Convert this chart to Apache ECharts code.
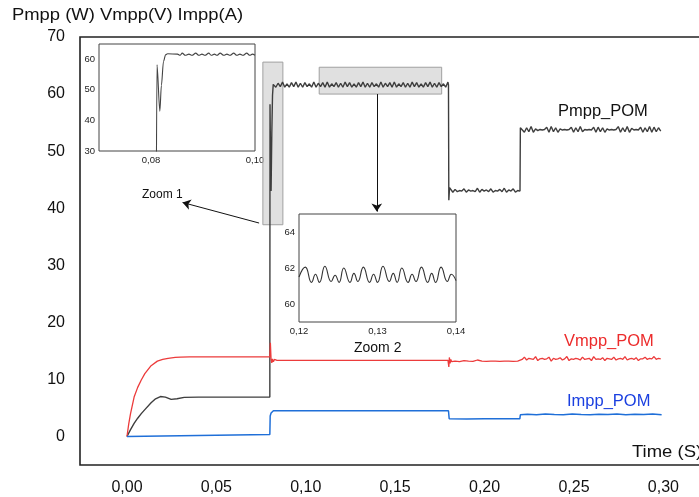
<!DOCTYPE html>
<html>
<head>
<meta charset="utf-8">
<script src="https://cdn.jsdelivr.net/npm/echarts@6/dist/echarts.min.js"></script>
<style>
  html, body { margin: 0; padding: 0; background: #fff; }
  #chart { width: 699px; height: 497px; }
</style>
</head>
<body>
<div id="chart"></div>
<script>
// ---- tick labels ----
const timeTicks = [0, 0.05, 0.10, 0.15, 0.20, 0.25, 0.30];
const valueTicks = [0, 10, 20, 30, 40, 50, 60, 70];
const zoom1TimeTicks = [0.08, 0.10];
const zoom1ValueTicks = [30, 40, 50, 60];
const zoom2TimeTicks = [0.12, 0.13, 0.14];
const zoom2ValueTicks = [60, 62, 64];

// ---- Pmpp_POM (W) ----
const pmppStart = [[0, 0], [0.002, 1.2], [0.004, 2.3], [0.006, 3.2], [0.008, 4.0], [0.010, 4.7],
  [0.0135, 5.9], [0.016, 6.6], [0.0187, 7.0], [0.0215, 6.9], [0.0247, 6.5], [0.028, 6.6],
  [0.032, 6.85], [0.040, 6.9], [0.060, 6.9], [0.0799, 6.9],
  [0.0800, 58.2], [0.0802, 52.0], [0.0806, 43.0], [0.0810, 53.0], [0.0814, 59.8], [0.0818, 61.7]];
// sampled every 1.25 ms from 0.0820 s
const pmppHigh = [62.0,61.2,61.9,61.3,62.1,61.2,61.8,61.2,62.0,61.3,
  62.1,61.2,61.9,61.2,62.0,61.3,61.8,61.2,62.1,61.2,
  61.9,61.3,62.0,61.2,62.1,61.2,61.8,61.3,62.0,61.2,
  61.9,61.2,62.1,61.3,62.0,61.2,61.8,61.2,62.0,61.3,
  62.1,61.2,61.9,61.2,62.0,61.3,61.8,61.2,62.1,61.2,
  61.9,61.3,62.0,61.2,62.1,61.2,61.8,61.3,62.0,61.2,
  61.9,61.2,62.1,61.3,62.0,61.2,61.8,61.2,62.0,61.3,
  62.1,61.2,61.9,61.2,62.0,61.3,61.8,61.2,62.1];
const pmppDrop = [[0.1798, 61.6], [0.1800, 41.4], [0.1804, 43.6]];
// sampled every 1.25 ms from 0.1810 s
const pmppLow = [43.4,42.8,43.3,42.9,43.1,43.0,43.4,42.8,43.2,43.0,
  43.1,42.9,43.5,42.8,43.3,43.0,43.2,42.9,43.4,42.8,
  43.1,43.0,43.3,42.9,43.5,42.8,43.2,43.0,43.4,42.8,43.1];
const pmppRise = [[0.2198, 43.0], [0.2200, 54.1]];
// sampled every 1.25 ms from 0.2210 s
const pmppMid = [54.2,53.3,54.1,53.4,54.3,53.3,53.9,53.6,53.8,53.7,
  53.8,54.2,53.3,54.3,53.4,54.1,53.3,53.9,53.7,53.8,
  53.7,53.8,54.2,53.3,54.1,53.4,54.3,53.4,53.8,53.7,
  53.8,53.7,54.2,53.3,54.2,53.4,54.1,53.3,53.9,53.7,
  53.8,53.7,53.8,54.3,53.3,54.1,53.4,54.3,53.3,54.0,
  53.7,53.8,53.7,54.2,53.3,54.1,53.4,54.3,53.3,54.2,
  53.4,54.1,53.5];

// ---- Vmpp_POM (V) ----
const vmppStart = [[0, 0], [0.001, 2.2], [0.002, 4.0], [0.004, 6.9], [0.006, 8.6], [0.008, 9.9],
  [0.010, 11.0], [0.0135, 12.4], [0.017, 13.2], [0.020, 13.5], [0.023, 13.7], [0.027, 13.85],
  [0.030, 13.9], [0.035, 13.95], [0.060, 13.95], [0.0799, 13.95],
  [0.0802, 16.4], [0.0806, 13.5], [0.0810, 12.9], [0.0814, 13.6], [0.0819, 13.1], [0.0825, 13.5],
  [0.0831, 13.2], [0.0839, 13.35], [0.1795, 13.35],
  [0.1800, 12.2], [0.1803, 13.85], [0.1807, 12.8], [0.1811, 13.5], [0.1816, 13.1], [0.1823, 13.3]];
// sampled every 2.5 ms from 0.1835 s
const vmppLow = [13.2,13.1,13.3,13.2,13.15,13.4,13.2,13.15,13.2,13.2,13.15,13.2,13.2,13.15,13.2];
// sampled every 1.25 ms from 0.2210 s
const vmppMid = [13.5,13.9,13.4,13.7,13.6,13.5,14.0,13.3,13.6,13.7,
  13.5,13.6,13.9,13.2,13.7,13.5,13.6,13.8,13.4,13.6,
  14.0,13.3,13.6,13.5,13.7,13.6,13.4,13.9,13.5,13.6,
  13.7,13.3,14.0,13.5,13.6,13.5,13.8,13.3,13.7,13.6,
  13.5,13.9,13.4,13.6,13.7,13.5,14.0,13.4,13.6,13.7,
  13.5,13.8,13.3,13.6,13.6,13.9,13.5,13.7,13.6,14.0,
  13.5,13.7,13.6];

// ---- Impp_POM (A) ----
const impp = [[0, 0], [0.001, 0.35], [0.0799, 0.35], [0.0801, 3.6], [0.0803, 3.9], [0.0806, 4.1],
  [0.0810, 4.4], [0.0819, 4.5], [0.1798, 4.5], [0.1802, 3.1], [0.190, 3.05], [0.200, 3.1],
  [0.2197, 3.1], [0.2200, 3.8], [0.224, 3.9], [0.229, 3.8], [0.234, 3.95], [0.239, 3.85],
  [0.244, 3.8], [0.249, 3.95], [0.254, 3.85], [0.259, 3.8], [0.264, 3.9], [0.269, 3.85],
  [0.274, 3.95], [0.279, 3.8], [0.284, 3.9], [0.289, 3.85], [0.294, 3.95], [0.2990, 3.8]];

// ---- detail views of Pmpp ----
const zoom1Pmpp = [[0.0810, 6.9], [0.08115, 58.2], [0.0817, 43.0], [0.0820, 51.5], [0.0824, 59.3],
  [0.0828, 61.5], [0.0832, 61.8], [0.0851, 61.7], [0.0856, 61.3], [0.0860, 62.0], [0.0866, 61.3],
  [0.0873, 61.7], [0.0879, 61.3], [0.0886, 62.0], [0.0892, 61.3], [0.0898, 61.7], [0.0904, 61.3],
  [0.0911, 62.0], [0.0916, 61.3], [0.0922, 61.7], [0.0927, 61.3], [0.0933, 62.0], [0.0940, 61.3],
  [0.0946, 61.7], [0.0952, 61.3], [0.0959, 62.0], [0.0965, 61.3], [0.0971, 61.7], [0.0977, 61.3],
  [0.0984, 62.0], [0.0990, 61.3], [0.0995, 61.7], [0.1000, 61.3]];
const zoom2Pmpp = [[0.1200, 61.5], [0.1208, 62.05], [0.1216, 61.2], [0.1221, 61.65], [0.1226, 61.2],
  [0.1233, 62.1], [0.1241, 61.25], [0.1246, 61.6], [0.1251, 61.2], [0.1257, 62.0], [0.1265, 61.2],
  [0.1270, 61.7], [0.1275, 61.25], [0.1282, 62.05], [0.1290, 61.2], [0.1295, 61.65], [0.1300, 61.2],
  [0.1307, 62.1], [0.1315, 61.25], [0.1320, 61.7], [0.1325, 61.2], [0.1331, 62.0], [0.1339, 61.2],
  [0.1344, 61.65], [0.1349, 61.25], [0.1356, 62.05], [0.1364, 61.2], [0.1369, 61.7], [0.1374, 61.2],
  [0.1381, 62.05], [0.1389, 61.25], [0.1394, 61.65], [0.1400, 61.3]];

// attach sample times to evenly sampled runs
function sampled(t0, dt, values) {
  return values.map((v, i) => [+(t0 + i * dt).toFixed(5), v]);
}

const pmppData = [].concat(
  pmppStart, sampled(0.0820, 0.00125, pmppHigh), pmppDrop,
  sampled(0.1810, 0.00125, pmppLow), pmppRise, sampled(0.2210, 0.00125, pmppMid));
const vmppData = [].concat(
  vmppStart, sampled(0.1835, 0.0025, vmppLow), sampled(0.2210, 0.00125, vmppMid));

const FONT = '"Liberation Sans", Arial, Helvetica, sans-serif';
const comma = (d) => (v) => v.toFixed(d).replace('.', ',');

const chart = echarts.init(document.getElementById('chart'), null, { renderer: 'canvas' });

const smallAxisLabel = { fontSize: 9.5, color: '#222', fontFamily: FONT, margin: 4 };
const noAxisDecor = { axisLine: { show: false }, axisTick: { show: false }, splitLine: { show: false } };

chart.setOption({
  animation: false,
  backgroundColor: '#fff',
  grid: [
    { left: 80, top: 37, right: -27, bottom: 32, show: true, borderColor: '#222', borderWidth: 1.6,
      backgroundColor: 'transparent', containLabel: false, outerBoundsMode: 'none' },
    { left: 99, top: 44, right: 444, bottom: 346, show: true, borderColor: '#444', borderWidth: 1,
      backgroundColor: '#fff', z: 3, containLabel: false, outerBoundsMode: 'none' },
    { left: 299, top: 214, right: 243, bottom: 175, show: true, borderColor: '#444', borderWidth: 1,
      backgroundColor: '#fff', z: 3, containLabel: false, outerBoundsMode: 'none' }
  ],
  xAxis: [
    Object.assign({ type: 'value', gridIndex: 0, min: -0.02626, max: 0.335,
      axisLabel: { customValues: timeTicks, formatter: comma(2), fontSize: 16, color: '#111', fontFamily: FONT, margin: 15 } }, noAxisDecor),
    Object.assign({ type: 'value', gridIndex: 1, min: 0.07, max: 0.10,
      axisLabel: Object.assign({ customValues: zoom1TimeTicks, formatter: comma(2) }, smallAxisLabel) }, noAxisDecor),
    Object.assign({ type: 'value', gridIndex: 2, min: 0.12, max: 0.14,
      axisLabel: Object.assign({ customValues: zoom2TimeTicks, formatter: comma(2) }, smallAxisLabel) }, noAxisDecor)
  ],
  yAxis: [
    Object.assign({ type: 'value', gridIndex: 0, min: -5, max: 70,
      axisLabel: { customValues: valueTicks, fontSize: 16, color: '#111', fontFamily: FONT, margin: 15 } }, noAxisDecor),
    Object.assign({ type: 'value', gridIndex: 1, min: 30, max: 65,
      axisLabel: Object.assign({ customValues: zoom1ValueTicks }, smallAxisLabel) }, noAxisDecor),
    Object.assign({ type: 'value', gridIndex: 2, min: 59, max: 65,
      axisLabel: Object.assign({ customValues: zoom2ValueTicks }, smallAxisLabel) }, noAxisDecor)
  ],
  series: [
    { name: 'Pmpp_POM', type: 'line', xAxisIndex: 0, yAxisIndex: 0, data: pmppData,
      showSymbol: false, z: 2, lineStyle: { color: '#3e3e3e', width: 1.4 } },
    { name: 'Vmpp_POM', type: 'line', xAxisIndex: 0, yAxisIndex: 0, data: vmppData,
      showSymbol: false, z: 2, lineStyle: { color: '#ec3b3b', width: 1.3 } },
    { name: 'Impp_POM', type: 'line', xAxisIndex: 0, yAxisIndex: 0, data: impp,
      showSymbol: false, z: 2, lineStyle: { color: '#1f6fd8', width: 1.5 } },
    // shaded zoom windows and pointer arrows
    { name: 'zoomWindows', type: 'line', xAxisIndex: 0, yAxisIndex: 0, data: [], z: 3, silent: true,
      markArea: { silent: true,
        itemStyle: { color: 'rgba(212,212,212,0.72)', borderColor: '#a0a0a0', borderWidth: 1 },
        data: [
          [{ coord: [0.0760, 65.6] }, { coord: [0.0872, 37.1] }],
          [{ coord: [0.1075, 64.7] }, { coord: [0.1760, 60.0] }]
        ] },
      markLine: { silent: true, symbol: ['none', 'arrow'], symbolSize: 8, label: { show: false },
        lineStyle: { color: '#111', width: 1, type: 'solid' },
        data: [
          [{ coord: [0.0739, 37.4] }, { coord: [0.0311, 41.0] }],
          [{ coord: [0.1397, 60.0] }, { coord: [0.1397, 39.4] }]
        ] } },
    { name: 'Zoom 1', type: 'line', xAxisIndex: 1, yAxisIndex: 1, data: zoom1Pmpp,
      showSymbol: false, z: 4, smooth: 0.3, smoothMonotone: 'x', lineStyle: { color: '#444', width: 1.1 } },
    { name: 'Zoom 2', type: 'line', xAxisIndex: 2, yAxisIndex: 2, data: zoom2Pmpp,
      showSymbol: false, z: 4, smooth: 0.5, lineStyle: { color: '#333', width: 1.1 } }
  ],
  graphic: [
    { type: 'text', x: 12, y: 16, scaleX: 1.15, style: { text: 'Pmpp (W) Vmpp(V) Impp(A)', fill: '#111', font: '16px ' + FONT, verticalAlign: 'middle' } },
    { type: 'text', x: 558, y: 111, style: { text: 'Pmpp_POM', fill: '#111', font: '16.5px ' + FONT, verticalAlign: 'middle' } },
    { type: 'text', x: 564, y: 341, style: { text: 'Vmpp_POM', fill: '#ec2b2b', font: '16.5px ' + FONT, verticalAlign: 'middle' } },
    { type: 'text', x: 567, y: 401, style: { text: 'Impp_POM', fill: '#1a3fe0', font: '16.5px ' + FONT, verticalAlign: 'middle' } },
    { type: 'text', x: 632, y: 452, scaleX: 1.12, style: { text: 'Time (S)', fill: '#111', font: '16.5px ' + FONT, verticalAlign: 'middle' } },
    { type: 'text', x: 142, y: 195, style: { text: 'Zoom 1', fill: '#111', font: '12px ' + FONT, verticalAlign: 'middle' } },
    { type: 'text', x: 354, y: 348, style: { text: 'Zoom 2', fill: '#111', font: '14px ' + FONT, verticalAlign: 'middle' } }
  ]
});
</script>
</body>
</html>
